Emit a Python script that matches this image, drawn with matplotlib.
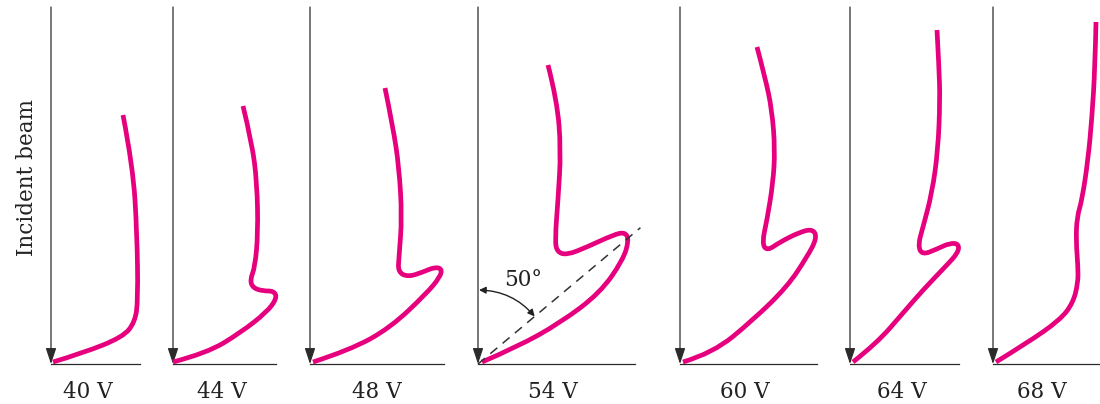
import matplotlib.pyplot as plt
from matplotlib.path import Path
from matplotlib.patches import PathPatch, FancyArrowPatch
import numpy as np

# accelerating voltages and panel labels
voltages = ["40 V", "44 V", "48 V", "54 V", "60 V", "64 V", "68 V"]

# polar intensity curves, points (x, y) relative to each panel origin
curve_40 = [(2, 2), (32, 11), (72, 27), (84, 42), (87, 64), (86, 131),
            (82, 197), (72, 249)]
curve_44 = [(0, 2), (34, 11), (67, 31), (94, 52), (104, 66), (101, 73),
            (90, 73), (80, 76), (77, 84), (82, 97), (85, 131), (84, 181),
            (79, 221), (70, 258)]
curve_48 = [(3, 2), (40, 14), (80, 36), (117, 71), (130, 87), (132, 95),
            (125, 97), (113, 92), (98, 87), (88, 92), (89, 107), (92, 147),
            (89, 197), (83, 237), (75, 276)]
curve_54 = [(4, 2), (39, 17), (82, 41), (122, 71), (145, 104), (151, 124),
            (147, 132), (135, 129), (109, 117), (89, 109), (79, 112),
            (77, 124), (80, 164), (83, 214), (79, 264), (70, 299)]
curve_60 = [(3, 2), (33, 11), (73, 44), (107, 77), (127, 107), (137, 126),
            (133, 135), (120, 132), (100, 122), (87, 113), (82, 121),
            (87, 144), (93, 181), (95, 214), (92, 254), (85, 287), (77, 317)]
curve_64 = [(3, 2), (27, 21), (53, 51), (73, 74), (95, 97), (108, 111),
            (109, 120), (100, 121), (87, 115), (72, 109), (68, 119),
            (73, 137), (82, 171), (88, 214), (90, 264), (89, 297), (87, 334)]
curve_68 = [(3, 2), (34, 21), (67, 44), (80, 61), (85, 81), (85, 97),
            (83, 124), (84, 147), (89, 164), (95, 204), (99, 247),
            (102, 297), (103, 342)]
curves = [curve_40, curve_44, curve_48, curve_54, curve_60, curve_64, curve_68]

# layout: panel origins, baseline lengths and label centres (pixels)
origins = [51, 173, 310, 478, 680, 850, 993]
base_len = [89, 103, 134, 157, 137, 109, 110]
label_x = [88, 222, 377, 553, 745, 902, 1042]
top = 357

magenta = "#e6007e"
axis_col = "#2b2b2b"
text_col = "#222222"
serif = ["DejaVu Serif"]

fig = plt.figure(figsize=(11, 4.04), dpi=100)
ax = fig.add_axes([0, 0, 1, 1])
ax.set_xlim(0, 1100)
ax.set_ylim(-40, 364)
ax.axis("off")


def smooth_path(pts, x0):
    pts = np.asarray(pts, dtype=float) + [x0, 0]
    verts = [pts[0]]
    codes = [Path.MOVETO]
    n = len(pts)
    for i in range(1, n - 1):
        end = pts[i + 1] if i == n - 2 else (pts[i] + pts[i + 1]) / 2
        verts += [pts[i], end]
        codes += [Path.CURVE3, Path.CURVE3]
    return Path(verts, codes)


for x0, L, pts, lab, lx in zip(origins, base_len, curves, voltages, label_x):
    ax.plot([x0, x0 + L], [0, 0], color=axis_col, lw=0.9)
    ax.add_patch(FancyArrowPatch((x0, top), (x0, 0),
                                 arrowstyle="-|>,head_length=0.6,head_width=0.2",
                                 mutation_scale=16, color=axis_col, lw=0.9,
                                 shrinkA=0, shrinkB=0))
    ax.add_patch(PathPatch(smooth_path(pts, x0), fill=False, ec=magenta,
                           lw=3.4, capstyle="butt", joinstyle="round"))
    ax.text(lx, -28, lab, ha="center", va="center", fontsize=15.5,
            family=serif, color=text_col)

# 50 degree construction on the 54 V panel
x0 = origins[3]
ang = np.deg2rad(50)
ax.plot([x0, x0 + 212 * np.sin(ang)], [0, 212 * np.cos(ang)],
        ls=(0, (6, 4.5)), color="#333333", lw=1.1)
r = 74
ax.add_patch(FancyArrowPatch((x0 + 1, r), (x0 + r * np.sin(ang), r * np.cos(ang)),
                             connectionstyle="arc3,rad=-0.22",
                             arrowstyle="<|-|>", mutation_scale=10,
                             color=text_col, lw=1.0, shrinkA=0, shrinkB=0))
ax.text(x0 + 45, 84, "50°", ha="center", va="center", fontsize=15.5,
        family=serif, color=text_col)

ax.text(27, 186, "Incident beam", rotation=90, ha="center", va="center",
        fontsize=15.5, family=serif, color=text_col)

fig.savefig("out.png", dpi=100)
